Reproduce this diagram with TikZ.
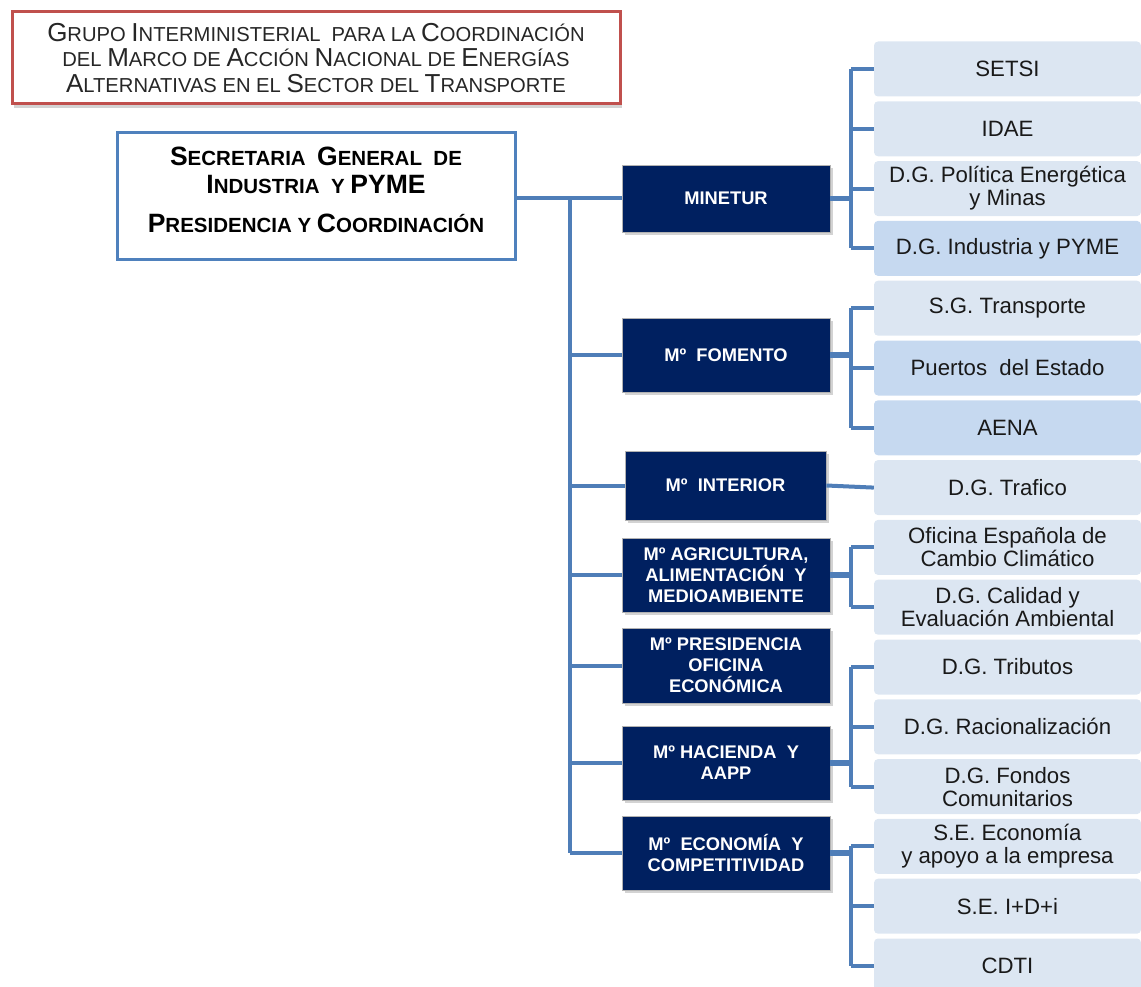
\documentclass[tikz,border=0pt]{standalone}
\usepackage{fontspec}
\setmainfont{Liberation Sans}
\usetikzlibrary{shadows}
\definecolor{navy}{HTML}{002060}
\definecolor{lineblue}{HTML}{4F7EB8}
\definecolor{lightbox}{HTML}{DCE6F2}
\definecolor{darkbox}{HTML}{C6D9F0}
\definecolor{redb}{HTML}{C0504D}
\definecolor{mainb}{HTML}{4F81BD}
\newcommand\bc[1]{{\fontsize{26}{25.5}\selectfont #1}}
\newcommand\bcm[1]{{\fontsize{26.5}{28}\selectfont #1}}
\tikzset{
  titlebox/.style={draw=redb, line width=3pt, fill=white, minimum width=608pt, minimum height=92pt, inner sep=0pt, align=center, font=\fontsize{20.2}{25.5}\selectfont, text=black!85, drop shadow={shadow xshift=2pt, shadow yshift=-4pt, opacity=0.35}},
  mainbox/.style={draw=mainb, line width=3pt, fill=white, minimum width=398pt, minimum height=127pt, inner sep=0pt},
  maintext/.style={align=center, font=\fontsize{20.5}{28}\selectfont\bfseries, text=black},
  ministry/.style={draw=gray!60, line width=0.8pt, fill=navy, text=white, font=\fontsize{18.3}{21}\selectfont\bfseries, minimum width=208pt, inner sep=0pt, align=center, drop shadow={shadow xshift=3pt, shadow yshift=-3pt, opacity=0.35}},
  subbox/.style={fill=lightbox, rounded corners=4pt, minimum width=267pt, minimum height=55pt, inner sep=0pt, font=\fontsize{22.2}{23}\selectfont, align=center, text=black!90},
  subdark/.style={subbox, fill=darkbox},
  conn/.style={draw=lineblue, line width=4pt},
  thick conn/.style={draw=lineblue, line width=5.5pt}
}
\begin{document}
\begin{tikzpicture}[x=1pt,y=-1pt]
\useasboundingbox (0,0) rectangle (1141,987);

% title
\node[titlebox] (title) at (316,58) {\bc{G}RUPO \bc{I}NTERMINISTERIAL\ \ PARA LA \bc{C}OORDINACIÓN\\DEL \bc{M}ARCO DE \bc{A}CCIÓN \bc{N}ACIONAL DE \bc{E}NERGÍAS\\\bc{A}LTERNATIVAS EN EL \bc{S}ECTOR DEL \bc{T}RANSPORTE};

% main box
\node[mainbox] (main) at (316,196.5) {};
\node[maintext] (maintxt) at (316,190) {\bcm{S}ECRETARIA\ \ \bcm{G}ENERAL\ \ DE\\\bcm{I}NDUSTRIA\ \ Y \bcm{PYME}\\[11pt]\bcm{P}RESIDENCIA Y \bcm{C}OORDINACIÓN};

% ministries
\node[ministry, minimum height=67pt] (minetur) at (726,198.5) {MINETUR};
\node[ministry, minimum height=74pt] (fomento) at (726,355) {Mº\ \ FOMENTO};
\node[ministry, minimum height=69pt, minimum width=201pt] (interior) at (725.5,485.5) {Mº\ \ INTERIOR};
\node[ministry, minimum height=74pt] (agri) at (726,575) {Mº AGRICULTURA,\\ALIMENTACIÓN\ \ Y\\MEDIOAMBIENTE};
\node[ministry, minimum height=75pt] (presid) at (726,665.5) {Mº PRESIDENCIA\\OFICINA\\ECONÓMICA};
\node[ministry, minimum height=74pt] (hacienda) at (726,763) {Mº HACIENDA\ \ Y\\AAPP};
\node[ministry, minimum height=74pt] (economia) at (726,853) {Mº\ \ ECONOMÍA\ \ Y\\COMPETITIVIDAD};

% sub boxes
\node[subbox]  (setsi)  at (1007.5,69)    {SETSI};
\node[subbox]  (idae)   at (1007.5,128.8) {IDAE};
\node[subbox]  (dgpol)  at (1007.5,188.6) {D.G. Política Energética\\y Minas};
\node[subdark] (dgind)  at (1007.5,248.4) {D.G. Industria y PYME};
\node[subbox]  (sgtr)   at (1007.5,308.2) {S.G. Transporte};
\node[subdark] (puertos) at (1007.5,368)  {Puertos\ \ del Estado};
\node[subdark] (aena)   at (1007.5,427.8) {AENA};
\node[subbox]  (trafico) at (1007.5,487.6) {D.G. Trafico};
\node[subbox]  (ofic)   at (1007.5,547.4) {Oficina Española de\\Cambio Climático};
\node[subbox]  (calidad) at (1007.5,607.2) {D.G. Calidad y\\Evaluación Ambiental};
\node[subbox]  (tributos) at (1007.5,667) {D.G. Tributos};
\node[subbox]  (racion) at (1007.5,726.8) {D.G. Racionalización};
\node[subbox]  (fondos) at (1007.5,786.6) {D.G. Fondos\\Comunitarios};
\node[subbox]  (seeco)  at (1007.5,846.4) {S.E. Economía\\y apoyo a la empresa};
\node[subbox]  (seid)   at (1007.5,906.2) {S.E. I+D+i};
\node[subbox]  (cdti)   at (1007.5,966)   {CDTI};

% trunk
\coordinate (tx) at (570,0);
\coordinate (bx) at (851,0);
\draw[conn] (main.east |- minetur) -- (minetur.west);
\draw[conn] (tx |- minetur) -- (tx |- economia);
\foreach \m in {fomento,interior,agri,presid,hacienda,economia}
  \draw[conn] (tx |- \m) -- (\m.west);

% MINETUR bracket
\draw[thick conn] (minetur.east) -- (bx |- minetur);
\draw[conn] (bx |- setsi) -- (bx |- dgind);
\foreach \c in {setsi,idae,dgpol,dgind} \draw[conn] (bx |- \c) -- (\c.west);

% Fomento bracket
\draw[thick conn] (fomento.east) -- (bx |- fomento);
\draw[conn] (bx |- sgtr) -- (bx |- aena);
\foreach \c in {sgtr,puertos,aena} \draw[conn] (bx |- \c) -- (\c.west);

% Interior
\draw[conn] (interior.east) -- (trafico.west);

% Agricultura bracket
\draw[thick conn] (agri.east) -- (bx |- agri);
\draw[conn] (bx |- ofic) -- (bx |- calidad);
\foreach \c in {ofic,calidad} \draw[conn] (bx |- \c) -- (\c.west);

% Hacienda bracket
\draw[thick conn] (hacienda.east) -- (bx |- hacienda);
\draw[conn] (bx |- tributos) -- (bx |- fondos);
\foreach \c in {tributos,racion,fondos} \draw[conn] (bx |- \c) -- (\c.west);

% Economia bracket
\draw[thick conn] (economia.east) -- (bx |- economia);
\draw[conn] (bx |- seeco) -- (bx |- cdti);
\foreach \c in {seeco,seid,cdti} \draw[conn] (bx |- \c) -- (\c.west);
\end{tikzpicture}
\end{document}
